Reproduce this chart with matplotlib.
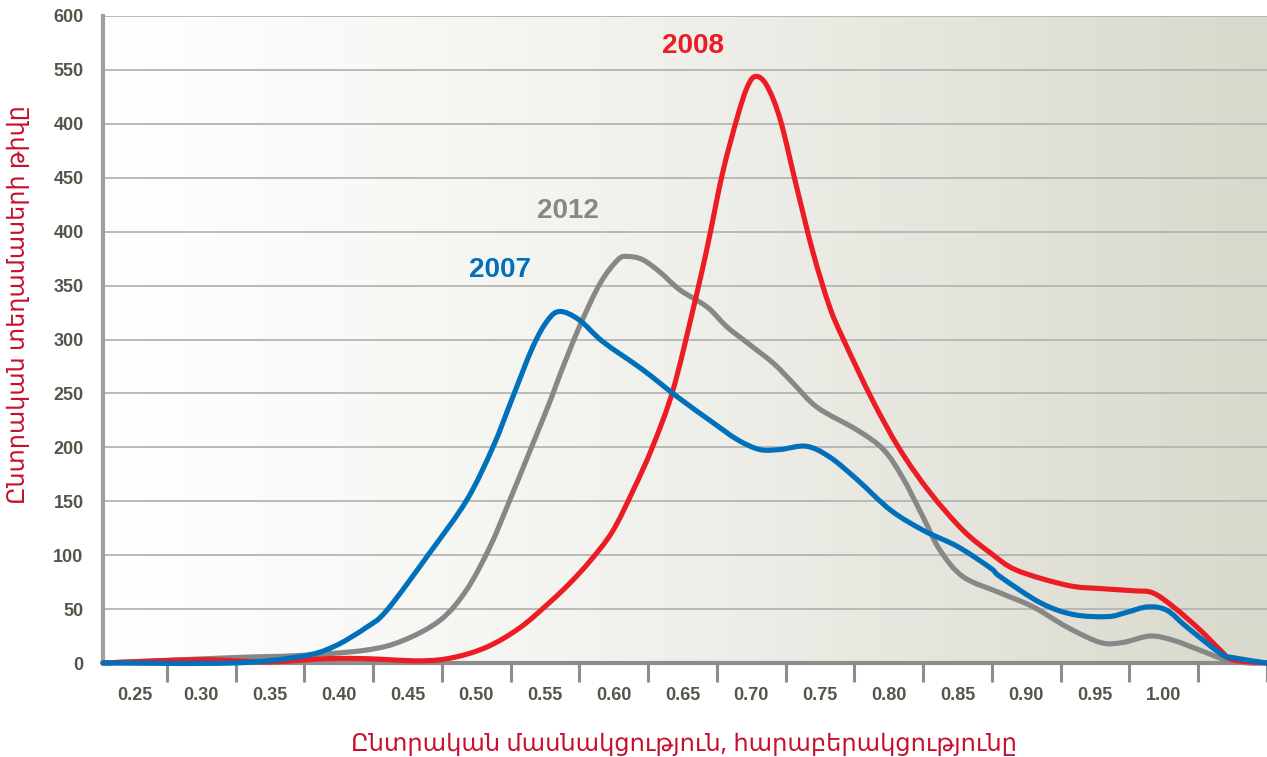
import matplotlib
matplotlib.use("Agg")
import matplotlib.pyplot as plt
import numpy as np
from matplotlib.colors import LinearSegmentedColormap
from matplotlib.path import Path
from matplotlib.patches import PathPatch

# ---- data ----
x_labels = ["0.25", "0.30", "0.35", "0.40", "0.45", "0.50", "0.55", "0.60",
            "0.65", "0.70", "0.75", "0.80", "0.85", "0.90", "0.95", "1.00", ""]
y_tick_values = [0, 50, 100, 150, 200, 250, 300, 350, 400, 450, 500, 550, 600]
y_tick_labels = ["0", "50", "100", "150", "200", "250", "300", "350", "400",
                 "450", "400", "550", "600"]

x_2007 = [0.2285, 0.323, 0.372, 0.396, 0.420, 0.435, 0.466, 0.493, 0.512, 0.526,
          0.541, 0.552, 0.561, 0.575, 0.592, 0.621, 0.646, 0.672, 0.690, 0.706,
          0.721, 0.740, 0.757, 0.777, 0.801, 0.825, 0.850, 0.874, 0.881, 0.910,
          0.934, 0.959, 0.973, 0.988, 1.002, 1.017, 1.041, 1.050, 1.075]
y_2007 = [0, 0, 6, 15, 33, 49, 102, 151, 200, 245,
          293, 318, 326, 318, 298, 272, 247, 223, 207, 198,
          198, 201, 191, 170, 142, 123, 108, 88, 80, 56,
          45, 43, 47, 52, 49, 33, 9, 5, 0]

x_2008 = [0.2285, 0.299, 0.348, 0.391, 0.420, 0.459, 0.483, 0.508, 0.532, 0.554,
          0.568, 0.583, 0.599, 0.614, 0.628, 0.643, 0.658, 0.668, 0.679, 0.690,
          0.697, 0.703, 0.711, 0.721, 0.733, 0.745, 0.757, 0.767, 0.788, 0.808,
          0.830, 0.854, 0.874, 0.893, 0.930, 0.954, 0.978, 0.992, 1.007, 1.026,
          1.041, 1.050, 1.075]
y_2008 = [0, 3, 1, 4, 4, 2, 5, 15, 33, 57,
          74, 95, 122, 160, 200, 253, 330, 386, 454, 507,
          534, 544, 536, 504, 441, 380, 330, 300, 244, 198,
          158, 123, 102, 86, 72, 69, 67, 65, 52, 31,
          12, 3, 0]

x_2012 = [0.2285, 0.323, 0.372, 0.420, 0.447, 0.474, 0.493, 0.510, 0.524, 0.541,
          0.554, 0.561, 0.575, 0.590, 0.603, 0.610, 0.621, 0.634, 0.648, 0.668,
          0.682, 0.697, 0.716, 0.730, 0.748, 0.777, 0.796, 0.810, 0.825, 0.837,
          0.854, 0.881, 0.905, 0.930, 0.954, 0.970, 0.990, 1.007, 1.026, 1.045,
          1.062, 1.075]
y_2012 = [0, 5, 7, 12, 21, 40, 68, 108, 150, 203,
          244, 268, 312, 352, 374, 377, 374, 362, 346, 330,
          312, 297, 278, 260, 237, 216, 198, 172, 135, 105,
          80, 65, 52, 33, 19, 19, 25, 21, 12, 3,
          0, 0]

series_names = ["2007", "2008", "2012"]

# ---- styling ----
c_red = "#ec1c24"
c_blue = "#0070ba"
c_gray = "#878787"
c_tick = "#55554a"
c_label = "#c8102e"


def smooth_path(xs, ys):
    """Catmull-Rom rendering of the data points as cubic Bezier segments."""
    p = np.column_stack([xs, ys]).astype(float)
    n = len(p)
    verts = [p[0]]
    codes = [Path.MOVETO]
    for i in range(n - 1):
        p0 = p[i - 1] if i > 0 else p[i]
        p1 = p[i]
        p2 = p[i + 1]
        p3 = p[i + 2] if i + 2 < n else p[i + 1]
        c1 = p1 + (p2 - p0) / 6.0
        c2 = p2 - (p3 - p1) / 6.0
        verts += [c1, c2, p2]
        codes += [Path.CURVE4] * 3
    return Path(verts, codes)


fig = plt.figure(figsize=(12.67, 7.57), dpi=100)
ax = fig.add_axes([103/1267, 1 - 663/757, 1 - 103/1267, (663 - 16)/757])

x0, x1 = 0.2285, 1.075
ax.set_xlim(x0, x1)
ax.set_ylim(0, 600)

# gradient background
cmap = LinearSegmentedColormap.from_list("bg", ["#ffffff", "#f0f0eb", "#d8d8cc"])
grad = np.linspace(0, 1, 256).reshape(1, -1)
ax.imshow(grad, extent=[x0, x1, 0, 600], aspect="auto", cmap=cmap, zorder=0)

# gridlines
for v in y_tick_values[1:]:
    ax.axhline(v, color="#b4b4b4", lw=1.3, zorder=1)

for xs, ys, col, z in [(x_2012, y_2012, c_gray, 3), (x_2008, y_2008, c_red, 4),
                       (x_2007, y_2007, c_blue, 5)]:
    patch = PathPatch(smooth_path(xs, ys), facecolor="none", edgecolor=col,
                      lw=3.7, zorder=z, clip_on=False, joinstyle="round",
                      capstyle="round")
    ax.add_patch(patch)

# series labels
lab_kw = dict(fontsize=20, fontweight="bold", ha="center", va="center",
              family="Liberation Sans")
ax.text(0.6575, 572, series_names[1], color=c_red, **lab_kw)
ax.text(0.5666, 419, series_names[2], color=c_gray, **lab_kw)
ax.text(0.5172, 364, series_names[0], color=c_blue, **lab_kw)

# y ticks
ax.set_yticks(y_tick_values)
ax.set_yticklabels(y_tick_labels)
ax.tick_params(axis="y", length=0, pad=14, labelsize=13, labelcolor=c_tick)

# x: category boundaries as ticks, labels at category centers
n = len(x_labels)
bounds = [0.275 + 0.05 * i for i in range(n)]
edges = [x0] + bounds
centers = [(edges[i] + edges[i + 1]) / 2 for i in range(n)]
ax.set_xticks(bounds)
ax.set_xticklabels([""] * n)
ax.set_xticks(centers, minor=True)
ax.set_xticklabels(x_labels, minor=True)
ax.tick_params(axis="x", which="major", length=14, width=2.2, color="#8c8c8c",
               direction="out")
ax.tick_params(axis="x", which="minor", length=0, pad=17, labelsize=13,
               labelcolor=c_tick)

for lab in ax.get_xticklabels(minor=True) + ax.get_yticklabels():
    lab.set_fontweight("bold")
    lab.set_family("Liberation Sans")

for s in ["top", "right"]:
    ax.spines[s].set_visible(False)
ax.spines["left"].set_color("#a0a0a0")
ax.spines["left"].set_linewidth(3)
ax.spines["bottom"].set_color("#8c8c8c")
ax.spines["bottom"].set_linewidth(3)

fig.text(684/1267, 1 - 745/757,
         "Ընտրական մասնակցություն, հարաբերակցությունը",
         color=c_label, fontsize=17.4, ha="center", va="center",
         family=["Noto Sans", "DejaVu Sans"])
fig.text(19/1267, 1 - 305/757, "Ընտրական տեղամասերի թիվը",
         color=c_label, fontsize=17.2, ha="center", va="center", rotation=90,
         family=["Noto Sans", "DejaVu Sans"])

fig.savefig("out.png", dpi=100)
